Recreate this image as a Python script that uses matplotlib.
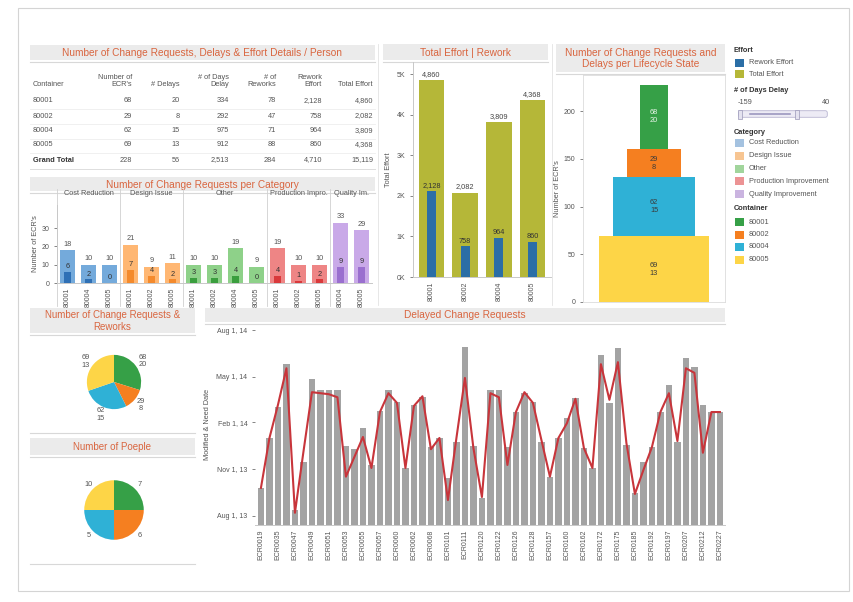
import matplotlib
matplotlib.use('Agg')
import matplotlib.pyplot as plt
import matplotlib.dates as mdates
from matplotlib.patches import Rectangle, FancyBboxPatch
import numpy as np
from datetime import datetime

plt.rcParams['font.family'] = ['Liberation Sans', 'DejaVu Sans']

# ---------------- data ----------------
containers = ['80001', '80002', '80004', '80005']
n_ecr = [68, 29, 62, 69]
n_delays = [20, 8, 15, 13]
days_delay = [334, 292, 975, 912]
n_reworks = [78, 47, 71, 88]
rework_effort = [2128, 758, 964, 860]
total_effort = [4860, 2082, 3809, 4368]
n_people = [7, 6, 5, 10]
people_slice_weight = [1, 1, 1, 1]

cat_names = ['Cost Reduction', 'Design Issue', 'Other', 'Production Impro.', 'Quality Im.']
cat_containers = [['80001', '80004', '80005'], ['80001', '80002', '80005'],
                  ['80001', '80002', '80004', '80005'], ['80001', '80002', '80005'],
                  ['80004', '80005']]
cat_ecrs = [[18, 10, 10], [21, 9, 11], [10, 10, 19, 9], [19, 10, 10], [33, 29]]
cat_delays = [[6, 2, 0], [7, 4, 2], [3, 3, 4, 0], [4, 1, 2], [9, 9]]

funnel_order = ['80005', '80004', '80002', '80001']  # bottom to top

ecr_tick_labels = ['ECR0019', 'ECR0035', 'ECR0047', 'ECR0049', 'ECR0051', 'ECR0053', 'ECR0055',
                   'ECR0057', 'ECR0060', 'ECR0062', 'ECR0068', 'ECR0101', 'ECR0111', 'ECR0120',
                   'ECR0122', 'ECR0126', 'ECR0128', 'ECR0157', 'ECR0160', 'ECR0162', 'ECR0172',
                   'ECR0175', 'ECR0185', 'ECR0192', 'ECR0197', 'ECR0207', 'ECR0212', 'ECR0227']
need_dates = ['2013-09-25', '2014-01-01', '2014-03-03', '2014-05-26', '2013-08-13', '2013-11-15',
              '2014-04-27', '2014-04-05', '2014-04-05', '2014-04-05', '2013-12-16', '2013-12-10',
              '2014-01-21', '2013-11-09', '2014-02-23', '2014-04-05', '2014-03-13', '2013-11-03',
              '2014-03-07', '2014-03-22', '2013-12-14', '2014-01-01', '2013-10-15', '2013-12-24',
              '2014-06-29', '2013-12-16', '2013-09-05', '2014-04-05', '2014-04-05', '2013-12-14',
              '2014-02-21', '2014-03-30', '2014-03-13', '2013-12-24', '2013-10-17', '2014-01-01',
              '2014-02-09', '2014-03-21', '2013-12-12', '2013-11-03', '2014-06-13', '2014-03-11',
              '2014-06-27', '2013-12-18', '2013-09-15', '2013-11-15', '2013-12-14', '2014-02-21',
              '2014-04-15', '2013-12-24', '2014-06-07', '2014-05-20', '2014-03-07', '2014-02-21',
              '2014-02-21']
modified_dates = ['2013-09-25', '2014-01-01', '2014-03-07', '2014-05-18', '2013-08-07', '2013-12-05',
                  '2014-04-01', '2014-03-30', '2014-03-28', '2014-03-22', '2013-10-17', '2013-11-25',
                  '2014-01-03', '2013-11-03', '2014-02-21', '2014-03-30', '2014-03-11', '2013-11-03',
                  '2014-03-05', '2014-03-24', '2013-12-10', '2014-01-01', '2013-09-01', '2014-01-01',
                  '2014-04-29', '2013-12-12', '2013-09-07', '2014-03-30', '2014-03-22', '2013-11-09',
                  '2014-02-21', '2014-04-01', '2014-03-11', '2013-12-28', '2013-10-17', '2014-01-01',
                  '2014-01-30', '2014-03-19', '2013-12-12', '2013-11-03', '2014-05-26', '2014-03-17',
                  '2014-05-30', '2013-12-22', '2013-09-13', '2013-10-30', '2013-12-14', '2014-02-21',
                  '2014-03-30', '2013-12-26', '2014-05-18', '2014-05-09', '2013-12-03', '2014-02-21',
                  '2014-02-21']
date_ticks = ['2013-08-01', '2013-11-01', '2014-02-01', '2014-05-01', '2014-08-01']

# ---------------- styles ----------------
W, H = 854, 602
TITLE_C = '#d9653f'
TXT = '#555555'
BAR_BG = '#ebebeb'
cont_colors = {'80001': '#36a047', '80002': '#f57f20', '80004': '#2fb1d6', '80005': '#fdd547'}
cat_light = ['#74aadb', '#ffb773', '#8ed189', '#ee8585', '#c9a9e8']
cat_dark = ['#2f70b5', '#f48a2c', '#3a9e3e', '#d9393b', '#9a6fcf']
cat_legend = ['#a4c2e0', '#f7c592', '#a1d59c', '#ec9394', '#cab4e0']
EFF_TOTAL = '#b5b738'
EFF_REWORK = '#2b6ea6'

fig = plt.figure(figsize=(W / 100, H / 100), dpi=100)
canvas = fig.add_axes([0, 0, 1, 1], zorder=0)
canvas.set_xlim(0, W)
canvas.set_ylim(H, 0)
canvas.axis('off')


def ax_px(x0, y0, x1, y1, **kw):
    a = fig.add_axes([x0 / W, 1 - y1 / H, (x1 - x0) / W, (y1 - y0) / H], **kw)
    a.set_facecolor('none')
    return a


def title_bar(x0, y0, x1, y1, text, fs=7.3):
    canvas.add_patch(Rectangle((x0, y0), x1 - x0, y1 - y0, color=BAR_BG, lw=0))
    canvas.plot([x0, x1], [y1 + 2, y1 + 2], color='#d8d8d8', lw=0.8)
    canvas.text((x0 + x1) / 2, (y0 + y1) / 2 + 0.5, text, ha='center', va='center',
                color=TITLE_C, fontsize=fs, linespacing=1.15)


def style_axis(a):
    for s in ['top', 'right']:
        a.spines[s].set_visible(False)
    for s in ['left', 'bottom']:
        a.spines[s].set_color('#c8c8c8')
        a.spines[s].set_linewidth(0.7)
    a.tick_params(labelsize=5, colors=TXT, length=2, width=0.5)


# outer frame
canvas.add_patch(Rectangle((18, 8), 831, 583, fill=False, ec='#d4d4d4', lw=0.8))
canvas.plot([378, 378], [44, 305], color='#e3e3e3', lw=0.6)
canvas.plot([552, 552], [44, 305], color='#e3e3e3', lw=0.6)

# ---------------- table ----------------
title_bar(30, 45, 375, 60, 'Number of Change Requests, Delays & Effort Details / Person')
col_right = [132, 180, 229, 276, 322, 373]
headers = ["Number of\nECR's", '# Delays', '# of Days\nDelay', '# of\nReworks', 'Rework\nEffort', 'Total Effort']
canvas.text(33, 88, 'Container', ha='left', va='bottom', fontsize=5.3, color=TXT)
for xr, h in zip(col_right, headers):
    canvas.text(xr, 88, h, ha='right', va='bottom', fontsize=5.3, color=TXT,
                multialignment='right', linespacing=1.05)
row_y = [101, 116, 131, 145, 160]
cols = [n_ecr, n_delays, days_delay, n_reworks, rework_effort, total_effort]
for i, c in enumerate(containers):
    canvas.text(33, row_y[i], c, ha='left', va='center', fontsize=5.3, color=TXT)
    for xr, col in zip(col_right, cols):
        canvas.text(xr, row_y[i], f'{col[i]:,}', ha='right', va='center', fontsize=5.3, color=TXT)
    canvas.plot([30, 375], [row_y[i] + 7.5, row_y[i] + 7.5], color='#eeeeee', lw=0.6)
canvas.text(33, row_y[4], 'Grand Total', ha='left', va='center', fontsize=5.3, color='#333333',
            fontweight='bold')
for xr, col in zip(col_right, cols):
    canvas.text(xr, row_y[4], f'{sum(col):,}', ha='right', va='center', fontsize=5.3, color=TXT)
canvas.plot([30, 375], [169, 169], color='#dddddd', lw=0.7)

# ---------------- category chart ----------------
title_bar(30, 177, 375, 191, 'Number of Change Requests per Category')
axc = ax_px(57, 205, 372, 283)
style_axis(axc)
pos = 0
bounds = []
xt, xl = [], []
for k, (name, conts, ecrs, dels) in enumerate(zip(cat_names, cat_containers, cat_ecrs, cat_delays)):
    start = pos
    for c, e, d in zip(conts, ecrs, dels):
        axc.bar(pos, e, width=0.74, color=cat_light[k], lw=0)
        axc.bar(pos, d, width=0.36, color=cat_dark[k], lw=0)
        axc.text(pos, e + 1.2, str(e), ha='center', va='bottom', fontsize=5.3, color=TXT)
        axc.text(pos, d + 1.0, str(d), ha='center', va='bottom', fontsize=5.3, color='#333333')
        xt.append(pos)
        xl.append(c)
        pos += 1
    bounds.append((start - 0.5, pos - 0.5))
    axc.text((start + pos - 1) / 2, 1.1, name, transform=axc.get_xaxis_transform(),
             ha='center', va='bottom', fontsize=5.3, color=TXT)
axc.set_xlim(-0.5, pos - 0.5)
axc.set_ylim(0, 42.6)
axc.set_yticks([0, 10, 20, 30])
axc.set_xticks(xt)
axc.set_xticklabels(xl, rotation=90)
axc.tick_params(axis='x', length=0, pad=3)
axc.set_ylabel("Number of ECR's", fontsize=5.3, color=TXT, labelpad=2)
for b0, b1 in bounds[1:]:
    axc.plot([b0, b0], [-0.29, 1.2], transform=axc.get_xaxis_transform(), color='#d0d0d0',
             lw=0.6, clip_on=False)
axc.plot([-0.5, -0.5], [-0.29, 1.2], transform=axc.get_xaxis_transform(), color='#d0d0d0',
         lw=0.6, clip_on=False)

# ---------------- effort chart ----------------
title_bar(383, 44, 548, 60, 'Total Effort | Rework')
axe = ax_px(413, 62, 551, 277)
style_axis(axe)
xe = np.arange(len(containers))
axe.bar(xe, total_effort, width=0.77, color=EFF_TOTAL, lw=0)
axe.bar(xe, rework_effort, width=0.27, color=EFF_REWORK, lw=0)
for i in xe:
    axe.text(i, total_effort[i] + 50, f'{total_effort[i]:,}', ha='center', va='bottom', fontsize=5.3,
             color='#444444')
    axe.text(i, rework_effort[i] + 40, f'{rework_effort[i]:,}', ha='center', va='bottom',
             fontsize=5.3, color='#333333')
axe.set_xlim(-0.55, len(containers) - 0.45)
axe.set_ylim(0, 5300)
axe.set_yticks([0, 1000, 2000, 3000, 4000, 5000])
axe.set_yticklabels(['0K', '1K', '2K', '3K', '4K', '5K'])
axe.set_xticks(xe)
axe.set_xticklabels(containers, rotation=90)
axe.tick_params(axis='x', length=0, pad=3)
axe.set_ylabel('Total Effort', fontsize=5.3, color=TXT, labelpad=3)

# ---------------- funnel ----------------
title_bar(556, 44, 725, 72, 'Number of Change Requests and\nDelays per Lifecycle State')
axf = ax_px(583, 75, 725, 302)
for s in axf.spines.values():
    s.set_color('#dcdcdc')
    s.set_linewidth(0.6)
axf.tick_params(labelsize=5, colors=TXT, length=2, width=0.5)
bottom = 0
nlev = len(funnel_order)
for i, c in enumerate(funnel_order):
    j = containers.index(c)
    wdt = nlev - i
    axf.bar(0, n_ecr[j], bottom=bottom, width=wdt, color=cont_colors[c], lw=0)
    tc = '#e9f5e9' if c == '80001' else '#3a3a3a'
    axf.text(0, bottom + n_ecr[j] / 2, f'{n_ecr[j]}\n{n_delays[j]}', ha='center', va='center',
             fontsize=5.3, color=tc, linespacing=1.2)
    bottom += n_ecr[j]
axf.set_xlim(-2.6, 2.6)
axf.set_ylim(0, 238)
axf.set_xticks([])
axf.set_yticks([0, 50, 100, 150, 200])
axf.set_ylabel("Number of ECR's", fontsize=5.3, color=TXT, labelpad=2)

# ---------------- legends ----------------
def leg_head(y, t):
    canvas.text(734, y, t, ha='left', va='center', fontsize=5.3, color='#333333', fontweight='bold')


def leg_item(y, col, t):
    canvas.add_patch(Rectangle((735, y - 4), 9, 8, color=col, lw=0))
    canvas.text(749, y, t, ha='left', va='center', fontsize=5.3, color=TXT)


leg_head(50, 'Effort')
leg_item(63, EFF_REWORK, 'Rework Effort')
leg_item(74, EFF_TOTAL, 'Total Effort')
leg_head(90, '# of Days Delay')
canvas.text(738, 103, '-159', ha='left', va='center', fontsize=5.3, color=TXT)
canvas.text(830, 103, '40', ha='right', va='center', fontsize=5.3, color=TXT)
canvas.add_patch(FancyBboxPatch((739, 111), 88, 6, boxstyle='round,pad=0.3,rounding_size=2',
                                fc='#edebf5', ec='#b9b6d2', lw=0.6))
canvas.plot([750, 790], [114, 114], color='#9c98c0', lw=1.2)
canvas.add_patch(Rectangle((738, 109.5), 4, 9, fc='#e4e2ef', ec='#9a97b8', lw=0.5))
canvas.add_patch(Rectangle((795, 109.5), 4, 9, fc='#e4e2ef', ec='#9a97b8', lw=0.5))
leg_head(132, 'Category')
for k, nm in enumerate(['Cost Reduction', 'Design Issue', 'Other', 'Production Improvement',
                        'Quality Improvement']):
    leg_item(143 + 12.8 * k, cat_legend[k], nm)
leg_head(209, 'Container')
for k, c in enumerate(containers):
    leg_item(222 + 12.5 * k, cont_colors[c], c)

# ---------------- pies ----------------
title_bar(30, 308, 195, 333, 'Number of Change Requests &\nReworks', fs=7)
axp1 = ax_px(84, 352, 144, 412)
axp1.pie(n_ecr, colors=[cont_colors[c] for c in containers], startangle=90, counterclock=False,
         radius=1.13, labels=[f'{e}\n{d}' for e, d in zip(n_ecr, n_delays)], labeldistance=1.3,
         textprops=dict(fontsize=5.3, color=TXT, ha='center', va='center', linespacing=1.1),
         wedgeprops=dict(lw=0))
axp1.set_aspect('equal')
canvas.plot([30, 195], [433, 433], color='#d8d8d8', lw=0.8)

title_bar(30, 438, 195, 455, 'Number of Poeple', fs=7)
axp2 = ax_px(83, 479, 145, 541)
axp2.pie(people_slice_weight, colors=[cont_colors[c] for c in containers], startangle=90,
         counterclock=False, radius=1.2, labels=[str(p) for p in n_people], labeldistance=1.22,
         textprops=dict(fontsize=5.3, color=TXT, ha='center', va='center'),
         wedgeprops=dict(lw=0))
axp2.set_aspect('equal')
canvas.plot([30, 195], [564, 564], color='#d8d8d8', lw=0.8)

# ---------------- delayed change requests ----------------
title_bar(205, 308, 725, 322, 'Delayed Change Requests')
axd = ax_px(255, 324, 725, 525)
style_axis(axd)
need = mdates.datestr2num(need_dates)
modi = mdates.datestr2num(modified_dates)
ymin = mdates.date2num(datetime(2013, 7, 14))
ymax = mdates.date2num(datetime(2014, 8, 13))
xd = np.arange(len(need_dates))
axd.bar(xd, need - ymin, bottom=ymin, width=0.78, color='#a3a3a3', lw=0)
axd.plot(xd, modi, color='#c8353b', lw=1.5, solid_joinstyle='round')
axd.set_xlim(-0.7, len(need_dates) - 0.4)
axd.set_ylim(ymin, ymax)
yt = mdates.datestr2num(date_ticks)
axd.set_yticks(yt)
axd.set_yticklabels([datetime.strptime(d, '%Y-%m-%d').strftime('%b 1, %y') for d in date_ticks])
axd.set_xticks(xd[::2])
axd.set_xticklabels(ecr_tick_labels, rotation=90)
axd.tick_params(axis='x', length=0, pad=3)
axd.spines['left'].set_visible(False)
axd.set_ylabel('Modified & Need Date', fontsize=5.3, color=TXT, labelpad=4)

fig.savefig('out.png', dpi=100, facecolor='white')
